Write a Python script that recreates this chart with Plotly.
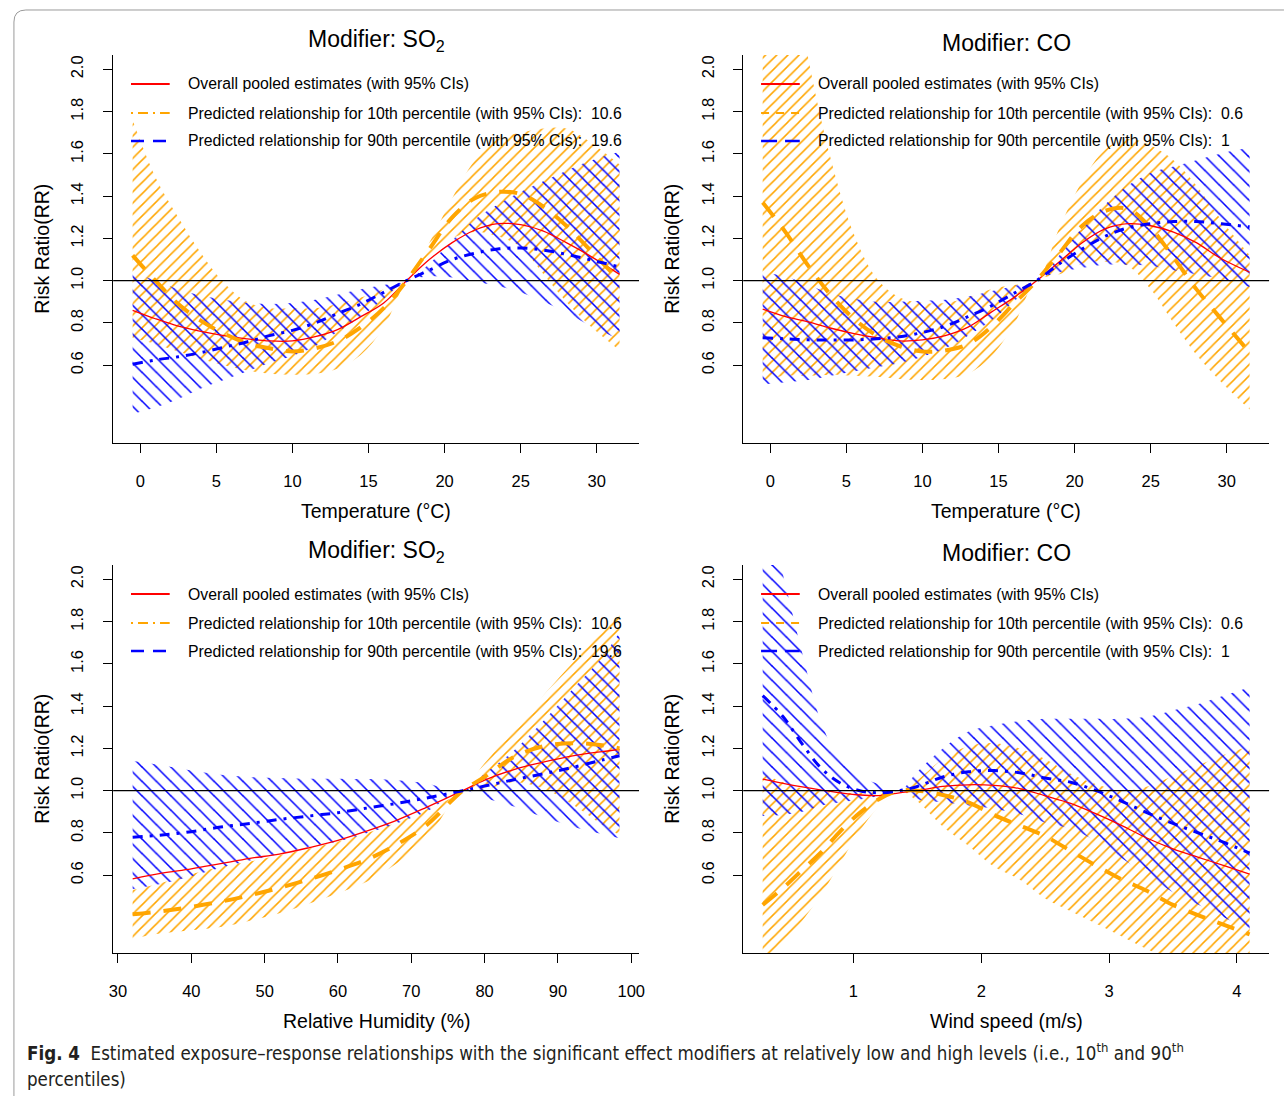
import plotly.graph_objects as go

# ---------------- data ----------------
temp_x = [-0.5, 1, 2.5, 4, 5.5, 7, 8.5, 10, 11.5, 13, 14.5, 16, 17.5, 19, 20.5, 22, 23.5, 25, 26.5, 28, 29.5, 31.5]
temp_ticks = [0, 5, 10, 15, 20, 25, 30]

# Panel 1: Temperature, modifier SO2
p1_red = [0.86, 0.82, 0.785, 0.76, 0.74, 0.725, 0.715, 0.715, 0.735, 0.77, 0.83, 0.895, 1.00, 1.10, 1.18, 1.24, 1.27, 1.265, 1.235, 1.18, 1.12, 1.03]
p1_p10 = [1.12, 1.00, 0.89, 0.81, 0.75, 0.705, 0.68, 0.665, 0.68, 0.715, 0.78, 0.87, 1.00, 1.15, 1.30, 1.39, 1.42, 1.41, 1.35, 1.26, 1.15, 1.00]
p1_p10_hi = [1.76, 1.49, 1.30, 1.13, 0.99, 0.90, 0.87, 0.87, 0.87, 0.89, 0.92, 0.96, 1.00, 1.18, 1.39, 1.57, 1.67, 1.70, 1.72, 1.72, 1.66, 1.55]
p1_p10_lo = [0.73, 0.70, 0.665, 0.63, 0.60, 0.575, 0.56, 0.555, 0.56, 0.585, 0.65, 0.78, 1.00, 1.11, 1.20, 1.23, 1.21, 1.16, 1.03, 0.90, 0.79, 0.67]
p1_p90 = [0.605, 0.625, 0.64, 0.66, 0.685, 0.71, 0.74, 0.765, 0.80, 0.845, 0.89, 0.945, 1.00, 1.05, 1.10, 1.13, 1.15, 1.155, 1.145, 1.125, 1.10, 1.065]
p1_p90_hi = [1.04, 1.00, 0.96, 0.93, 0.91, 0.895, 0.89, 0.895, 0.91, 0.935, 0.96, 0.98, 1.00, 1.08, 1.19, 1.29, 1.36, 1.42, 1.47, 1.52, 1.565, 1.61]
p1_p90_lo = [0.37, 0.40, 0.44, 0.49, 0.53, 0.57, 0.61, 0.645, 0.69, 0.76, 0.83, 0.915, 1.00, 1.02, 1.015, 0.995, 0.975, 0.945, 0.90, 0.85, 0.79, 0.72]

# Panel 2: Temperature, modifier CO
p2_red = [0.865, 0.83, 0.805, 0.775, 0.75, 0.73, 0.715, 0.72, 0.74, 0.78, 0.85, 0.92, 1.00, 1.09, 1.18, 1.245, 1.27, 1.26, 1.23, 1.18, 1.11, 1.04]
p2_p10 = [1.37, 1.23, 1.07, 0.93, 0.82, 0.74, 0.69, 0.665, 0.67, 0.70, 0.78, 0.89, 1.00, 1.13, 1.26, 1.33, 1.34, 1.25, 1.11, 0.96, 0.83, 0.66]
p2_p10_hi = [3.5, 2.7, 2.05, 1.57, 1.22, 1.01, 0.92, 0.895, 0.895, 0.92, 0.96, 0.98, 1.00, 1.25, 1.47, 1.62, 1.67, 1.64, 1.57, 1.45, 1.30, 1.12]
p2_p10_lo = [0.53, 0.55, 0.55, 0.555, 0.55, 0.545, 0.535, 0.53, 0.535, 0.56, 0.64, 0.79, 1.00, 1.03, 1.08, 1.09, 1.07, 0.96, 0.80, 0.65, 0.53, 0.39]
p2_p90 = [0.73, 0.725, 0.72, 0.72, 0.72, 0.725, 0.735, 0.755, 0.785, 0.83, 0.88, 0.94, 1.00, 1.08, 1.15, 1.21, 1.25, 1.27, 1.28, 1.28, 1.27, 1.255]
p2_p90_hi = [1.04, 1.02, 0.98, 0.94, 0.915, 0.90, 0.90, 0.905, 0.91, 0.925, 0.95, 0.975, 1.00, 1.12, 1.25, 1.36, 1.45, 1.51, 1.54, 1.57, 1.60, 1.63]
p2_p90_lo = [0.51, 0.52, 0.53, 0.55, 0.57, 0.59, 0.61, 0.64, 0.68, 0.74, 0.81, 0.90, 1.00, 1.04, 1.06, 1.075, 1.075, 1.07, 1.05, 1.03, 1.01, 0.97]

# Panel 3: Relative humidity, modifier SO2
rh_x = [32, 36, 40, 44, 48, 52, 56, 60, 64, 68, 72, 77, 80, 84, 88, 92, 96, 98.4]
rh_ticks = [30, 40, 50, 60, 70, 80, 90, 100]
p3_red = [0.583, 0.61, 0.63, 0.655, 0.68, 0.70, 0.73, 0.765, 0.81, 0.86, 0.92, 1.00, 1.05, 1.10, 1.135, 1.165, 1.185, 1.195]
p3_p10 = [0.415, 0.43, 0.45, 0.475, 0.505, 0.54, 0.58, 0.625, 0.675, 0.745, 0.835, 1.00, 1.065, 1.16, 1.21, 1.225, 1.215, 1.20]
p3_p10_hi = [0.53, 0.565, 0.605, 0.64, 0.665, 0.695, 0.725, 0.76, 0.80, 0.85, 0.91, 1.00, 1.13, 1.29, 1.45, 1.605, 1.76, 1.855]
p3_p10_lo = [0.30, 0.325, 0.34, 0.355, 0.385, 0.42, 0.465, 0.515, 0.57, 0.655, 0.765, 1.00, 1.005, 1.04, 1.01, 0.935, 0.84, 0.79]
p3_p90 = [0.78, 0.79, 0.806, 0.828, 0.845, 0.864, 0.88, 0.896, 0.918, 0.94, 0.965, 1.00, 1.022, 1.052, 1.08, 1.11, 1.145, 1.165]
p3_p90_hi = [1.14, 1.12, 1.095, 1.075, 1.065, 1.06, 1.057, 1.057, 1.055, 1.05, 1.035, 1.00, 1.08, 1.19, 1.33, 1.48, 1.63, 1.75]
p3_p90_lo = [0.535, 0.56, 0.595, 0.635, 0.67, 0.70, 0.735, 0.76, 0.80, 0.845, 0.90, 1.00, 0.965, 0.925, 0.875, 0.83, 0.795, 0.775]

# Panel 4: Wind speed, modifier CO
ws_x = [0.29, 0.45, 0.6, 0.75, 0.9, 1.05, 1.2, 1.36, 1.5, 1.7, 1.9, 2.1, 2.3, 2.5, 2.7, 2.9, 3.1, 3.3, 3.5, 3.7, 3.9, 4.1]
ws_ticks = [1, 2, 3, 4]
p4_red = [1.055, 1.035, 1.018, 1.003, 0.99, 0.98, 0.977, 0.99, 1.00, 1.02, 1.028, 1.025, 1.01, 0.976, 0.94, 0.89, 0.835, 0.775, 0.725, 0.685, 0.645, 0.605]
p4_p10 = [0.46, 0.54, 0.625, 0.71, 0.81, 0.895, 0.96, 1.00, 1.00, 0.98, 0.945, 0.885, 0.835, 0.785, 0.715, 0.645, 0.58, 0.525, 0.46, 0.41, 0.365, 0.32]
p4_p10_hi = [1.08, 1.04, 1.01, 0.995, 0.99, 0.99, 0.995, 1.00, 1.05, 1.15, 1.21, 1.225, 1.20, 1.15, 1.08, 1.03, 1.00, 1.02, 1.07, 1.12, 1.17, 1.21]
p4_p10_lo = [0.19, 0.28, 0.385, 0.51, 0.66, 0.81, 0.925, 1.00, 0.95, 0.83, 0.74, 0.64, 0.58, 0.49, 0.43, 0.37, 0.31, 0.25, 0.20, 0.15, 0.11, 0.085]
p4_p90 = [1.45, 1.35, 1.22, 1.105, 1.035, 1.00, 0.99, 1.00, 1.02, 1.065, 1.09, 1.095, 1.085, 1.06, 1.04, 1.00, 0.95, 0.895, 0.845, 0.80, 0.755, 0.705]
p4_p90_hi = [2.40, 2.02, 1.65, 1.32, 1.14, 1.07, 1.03, 1.00, 1.09, 1.20, 1.28, 1.31, 1.33, 1.34, 1.34, 1.34, 1.34, 1.35, 1.38, 1.41, 1.45, 1.49]
p4_p90_lo = [0.88, 0.885, 0.90, 0.93, 0.945, 0.958, 0.975, 1.00, 0.96, 0.945, 0.93, 0.915, 0.89, 0.85, 0.82, 0.76, 0.68, 0.60, 0.52, 0.46, 0.40, 0.34]

rr_ticks = [0.6, 0.8, 1.0, 1.2, 1.4, 1.6, 1.8, 2.0]
rr_range = [0.232, 2.068]

titles = ["Modifier: SO<sub>2</sub>", "Modifier: CO", "Modifier: SO<sub>2</sub>", "Modifier: CO"]
x_titles = ["Temperature (°C)", "Temperature (°C)", "Relative Humidity (%)", "Wind speed (m/s)"]
pct10_vals = ["10.6", "0.6", "10.6", "0.6"]
pct90_vals = ["19.6", "1", "19.6", "1"]
legend_overall = "Overall pooled estimates (with 95% CIs)"
legend_p10 = "Predicted relationship for 10th percentile (with 95% CIs):"
legend_p90 = "Predicted relationship for 90th percentile (with 95% CIs):"
caption_1 = ("<b>Fig. 4</b>\u00a0\u00a0Estimated exposure\u2013response relationships with the significant effect "
             "modifiers at relatively low and high levels (i.e., 10<sup>th</sup> and 90<sup>th</sup>")
caption_2 = "percentiles)"

# ---------------- styling / layout ----------------
W, H = 1285, 1096
FONT = "Liberation Sans, Arial, Helvetica, sans-serif"
CAP_FONT = "Liberation Sans Narrow, DejaVu Sans Condensed, Roboto Condensed, Arial Narrow, sans-serif"
ORANGE = "#FFA500"
BLUE = "#0000FF"
RED = "#FF0000"

panels = [
    dict(x=temp_x, red=p1_red, a=p1_p10, ah=p1_p10_hi, al=p1_p10_lo, b=p1_p90, bh=p1_p90_hi, bl=p1_p90_lo,
         box=(110, 55, 640, 443), xr=[-1.78, 32.78], xt=temp_ticks, leg="A"),
    dict(x=temp_x, red=p2_red, a=p2_p10, ah=p2_p10_hi, al=p2_p10_lo, b=p2_p90, bh=p2_p90_hi, bl=p2_p90_lo,
         box=(745, 55, 1275, 443), xr=[-1.78, 32.78], xt=temp_ticks, leg="B"),
    dict(x=rh_x, red=p3_red, a=p3_p10, ah=p3_p10_hi, al=p3_p10_lo, b=p3_p90, bh=p3_p90_hi, bl=p3_p90_lo,
         box=(110, 565, 640, 953), xr=[29.34, 101.06], xt=rh_ticks, leg="A"),
    dict(x=ws_x, red=p4_red, a=p4_p10, ah=p4_p10_hi, al=p4_p10_lo, b=p4_p90, bh=p4_p90_hi, bl=p4_p90_lo,
         box=(745, 565, 1275, 953), xr=[0.1376, 4.2524], xt=ws_ticks, leg="B"),
]


def fx(px):
    return px / W


def fy(py):
    return 1 - py / H


fig = go.Figure()
annotations = []
shapes = []
layout_axes = {}

axis_common = dict(showline=True, linecolor="black", linewidth=1.2, ticks="outside", ticklen=9,
                   tickwidth=1.2, tickcolor="black", showgrid=False, zeroline=False, mirror=False,
                   tickfont=dict(family=FONT, size=16.5, color="black"))


def ann(text, px, py, size, xanchor="center", yanchor="middle", angle=0, family=FONT, color="black"):
    annotations.append(dict(text=text, x=fx(px), y=fy(py), xref="paper", yref="paper", showarrow=False,
                            xanchor=xanchor, yanchor=yanchor, textangle=angle,
                            font=dict(family=family, size=size, color=color)))


for i, p in enumerate(panels, start=1):
    sfx = "" if i == 1 else str(i)
    xa, ya = "x" + sfx, "y" + sfx
    x0, y0, x1, y1 = p["box"]
    common = dict(xaxis=xa, yaxis=ya, hoverinfo="skip", showlegend=False, mode="lines")

    # 10th percentile CI (orange "/" hatching)
    fig.add_trace(go.Scatter(x=p["x"], y=p["al"], line=dict(width=0, shape="spline"), **common))
    fig.add_trace(go.Scatter(x=p["x"], y=p["ah"], line=dict(width=0, shape="spline"), fill="tonexty",
                             fillcolor="rgba(0,0,0,0)",
                             fillpattern=dict(shape="/", size=7.9, solidity=0.19, fgcolor=ORANGE,
                                              bgcolor="rgba(0,0,0,0)", fillmode="replace"), **common))
    # 90th percentile CI (blue "\" hatching)
    fig.add_trace(go.Scatter(x=p["x"], y=p["bl"], line=dict(width=0, shape="spline"), **common))
    fig.add_trace(go.Scatter(x=p["x"], y=p["bh"], line=dict(width=0, shape="spline"), fill="tonexty",
                             fillcolor="rgba(0,0,0,0)",
                             fillpattern=dict(shape="\\", size=10.2, solidity=0.15, fgcolor=BLUE,
                                              bgcolor="rgba(0,0,0,0)", fillmode="replace"), **common))
    # curves
    fig.add_trace(go.Scatter(x=p["x"], y=p["red"], line=dict(color=RED, width=1.3, shape="spline"), **common))
    fig.add_trace(go.Scatter(x=p["x"], y=p["a"], line=dict(color=ORANGE, width=4, dash="18px,13px",
                                                           shape="spline"), **common))
    fig.add_trace(go.Scatter(x=p["x"], y=p["b"], line=dict(color=BLUE, width=3, dash="10px,7px,3px,7px",
                                                           shape="spline"), **common))

    layout_axes["xaxis" + sfx] = dict(domain=[fx(x0), fx(x1)], range=p["xr"], anchor=ya, tickvals=p["xt"],
                                      ticklabelstandoff=14, **axis_common)
    layout_axes["yaxis" + sfx] = dict(domain=[fy(y1), fy(y0)], range=rr_range, anchor=xa, tickvals=rr_ticks,
                                      ticktext=["%.1f" % v for v in rr_ticks], tickangle=-90,
                                      ticklabelstandoff=13, **axis_common)

    # reference line RR = 1
    shapes.append(dict(type="line", xref=xa + " domain", x0=0, x1=1, yref=ya, y0=1, y1=1,
                       line=dict(color="black", width=1.2), layer="above"))

    # titles
    cx = (x0 + x1) / 2
    ann(titles[i - 1], cx, y0 - 14 if i in (1, 3) else y0 - 12, 23)
    ann(x_titles[i - 1], cx, y1 + 68, 19.5)
    ann("Risk Ratio(RR)", x0 - 72, (y0 + y1) / 2, 19.5, angle=-90)

    # legend (drawn as in the R figure: line samples + text, no box)
    rows = [y0 + 29, y0 + 58, y0 + 86]
    if p["leg"] == "A":
        d10, d90 = "2px,5px,10px,5px", "13px,9px"
    else:
        d10, d90 = "8px,7px", "16px,8px"
    samples = [(RED, "solid", 2), (ORANGE, d10, 2), (BLUE, d90, 2.5)]
    for (col, dash, wd), ry in zip(samples, rows):
        shapes.append(dict(type="line", xref="paper", yref="paper", x0=fx(x0 + 18), x1=fx(x0 + 57),
                           y0=fy(ry), y1=fy(ry), line=dict(color=col, width=wd, dash=dash)))
    ann(legend_overall, x0 + 73, rows[0], 15.8, xanchor="left")
    ann(legend_p10 + "\u00a0\u00a0" + pct10_vals[i - 1], x0 + 73, rows[1], 15.8, xanchor="left")
    ann(legend_p90 + "\u00a0\u00a0" + pct90_vals[i - 1], x0 + 73, rows[2], 15.8, xanchor="left")

# caption
ann(caption_1, 21, 1052, 18.6, xanchor="left", family=CAP_FONT, color="#231f20")
ann(caption_2, 21, 1079, 18.6, xanchor="left", family=CAP_FONT, color="#231f20")

# outer frame (rounded top-left corner)
shapes.append(dict(type="path", xref="paper", yref="paper",
                   path="M %f,%f L %f,%f Q %f,%f %f,%f L %f,%f" % (
                       fx(10), fy(1096), fx(10), fy(22), fx(10), fy(10), fx(22), fy(10), fx(1290), fy(10)),
                   line=dict(color="#9a9a9a", width=1)))

fig.update_layout(width=W, height=H, margin=dict(l=0, r=0, t=0, b=0), plot_bgcolor="white",
                  paper_bgcolor="white", showlegend=False, annotations=annotations, shapes=shapes,
                  **layout_axes)

fig.write_html("out.html")
